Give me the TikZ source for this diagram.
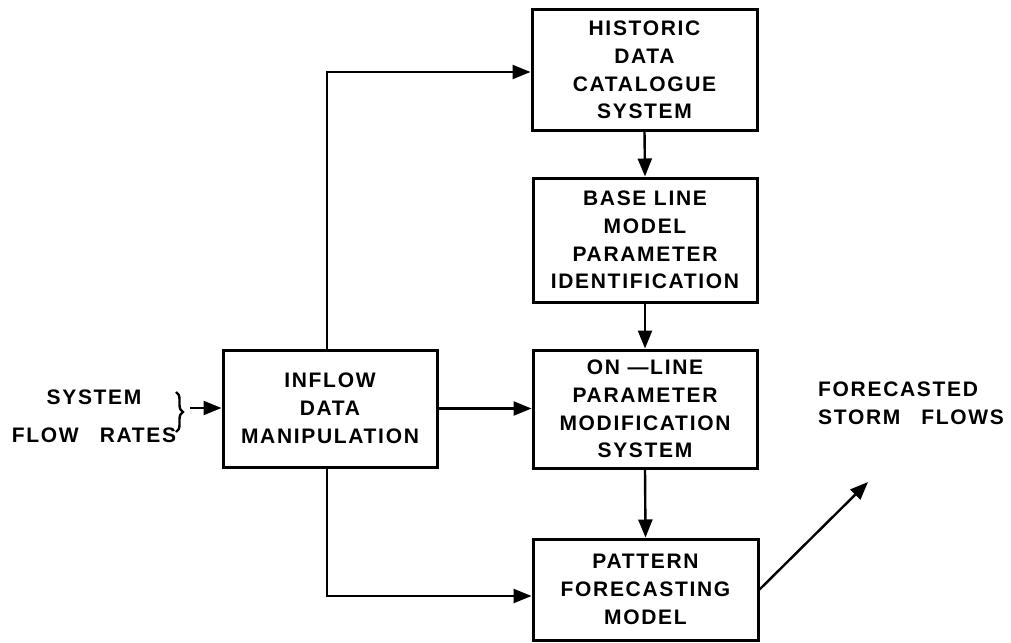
\documentclass[tikz,border=0pt]{standalone}
\usepackage{fontspec}
\newfontfamily\lett{Liberation Sans}[LetterSpace=8]
\usetikzlibrary{arrows.meta,decorations.pathreplacing}
\tikzset{
  box/.style={draw, line width=3pt, inner sep=0pt, align=center,
    font=\lett\bfseries\fontsize{21}{27.8}\selectfont},
  lbl/.style={inner sep=0pt, font=\lett\bfseries\fontsize{21}{28}\selectfont},
  conn/.style={line width=2.4pt, -{Triangle[length=18pt,width=14pt]}},
  brc/.style={line width=2.4pt, decorate, decoration={brace, amplitude=7pt}}
}
\begin{document}
\begin{tikzpicture}[x=1pt,y=-1pt]
\useasboundingbox (0,0) rectangle (1011,642);
\node[box, minimum width=225pt, minimum height=120pt] (hist) at (644.5,70)
  {HISTORIC\\DATA\\CATALOGUE\\SYSTEM};
\node[box, minimum width=224pt, minimum height=124pt] (base) at (645,240)
  {BASE LINE\\MODEL\\PARAMETER\\IDENTIFICATION};
\node[box, minimum width=224pt, minimum height=118pt] (online) at (645,409)
  {ON \textemdash LINE\\PARAMETER\\MODIFICATION\\SYSTEM};
\node[box, minimum width=225pt, minimum height=101pt] (pattern) at (645.5,589.5)
  {PATTERN\\FORECASTING\\MODEL};
\node[box, minimum width=214pt, minimum height=117pt] (inflow) at (330,408.5)
  {INFLOW\\DATA\\MANIPULATION};
\node[lbl, align=center, font=\lett\bfseries\fontsize{21}{38}\selectfont] (sys) at (94,416.5)
  {SYSTEM\\FLOW\quad RATES};
\node[lbl, align=left, anchor=west] (fsf) at (818,403.5)
  {FORECASTED\\STORM\quad FLOWS};
\coordinate (up) at (327,72);
\coordinate (dn) at (327,596);
\coordinate (out) at (868,482);
\coordinate (btop) at (176,392);
\coordinate (bbot) at (176,432);
\coordinate (btip) at (190,408);
\draw[brc] (btop) -- (bbot);
\draw[conn] (btip) -- (btip -| inflow.west);
\draw[conn] (inflow.north -| up) |- (hist.west |- up);
\draw[conn] (inflow.south -| dn) |- (pattern.west |- dn);
\draw[conn] (inflow.east) -- (inflow.east -| online.west);
\draw[conn] (hist.south) -- (base.north);
\draw[conn] (base.south) -- (online.north);
\draw[conn] (online.south) -- (pattern.north);
\draw[conn] (pattern.east) -- (out);
\end{tikzpicture}
\end{document}
